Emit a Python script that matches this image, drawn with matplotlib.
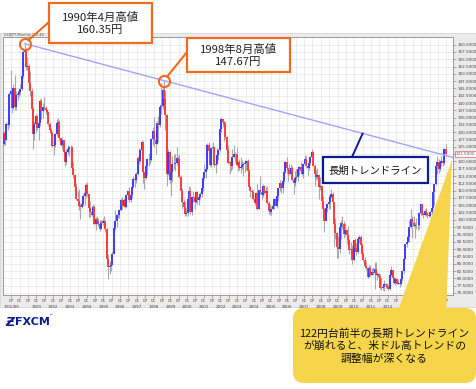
import matplotlib
matplotlib.use('Agg')
import matplotlib.pyplot as plt
from matplotlib.patches import Rectangle, FancyBboxPatch, Polygon, ConnectionPatch
import matplotlib.transforms as mtransforms
import numpy as np

plt.rcParams['font.family'] = ['Noto Sans CJK JP', 'DejaVu Sans']

# USD/JPY monthly, Jan 1989 - Jun 2015
START_YEAR = 1989
first_open = 125.9
closes = [
    129.7, 127.4, 132.7, 132.5, 143.0, 144.1, 138.2, 145.3, 138.8, 142.8, 143.2, 143.8,  # 1989
    144.9, 149.4, 157.6, 158.5, 152.2, 152.8, 146.7, 144.0, 137.9, 129.4, 132.8, 135.4,  # 1990
    131.3, 133.0, 140.6, 137.3, 138.6, 138.3, 137.5, 136.9, 132.9, 130.6, 129.7, 125.2,  # 1991
    125.8, 129.3, 133.1, 133.5, 128.0, 125.6, 127.4, 123.2, 119.9, 123.3, 124.4, 124.8,  # 1992
    124.9, 117.9, 115.4, 111.1, 107.2, 106.5, 104.6, 104.5, 105.5, 108.2, 109.1, 111.9,  # 1993
    108.9, 104.1, 102.7, 101.8, 104.5, 98.5, 100.3, 99.6, 98.5, 97.0, 98.9, 99.7,        # 1994
    99.6, 96.9, 86.5, 84.0, 84.2, 84.6, 88.4, 97.3, 99.6, 101.6, 101.7, 103.3,           # 1995
    106.8, 104.6, 106.9, 104.5, 108.6, 109.8, 106.8, 108.5, 111.4, 114.1, 113.6, 115.8,  # 1996
    121.3, 120.2, 123.9, 126.7, 116.4, 114.3, 118.3, 120.8, 120.7, 120.5, 127.7, 130.4,  # 1997
    127.2, 126.0, 133.3, 132.4, 138.8, 138.9, 144.6, 141.3, 136.0, 115.6, 123.4, 113.6,  # 1998
    116.3, 119.0, 119.3, 119.5, 121.3, 120.7, 114.6, 109.9, 106.1, 104.5, 102.1, 102.2,  # 1999
    107.3, 109.9, 102.8, 108.0, 107.7, 106.1, 109.7, 106.8, 108.0, 108.9, 111.0, 114.4,  # 2000
    116.4, 117.4, 125.5, 123.6, 118.8, 124.7, 125.0, 118.7, 119.3, 122.3, 123.8, 131.0,  # 2001
    134.7, 133.5, 132.7, 128.5, 124.0, 119.6, 119.9, 118.3, 121.6, 122.5, 122.4, 118.8,  # 2002
    119.9, 117.6, 118.1, 118.8, 119.3, 119.6, 120.3, 116.9, 111.4, 109.9, 109.5, 107.2,  # 2003
    105.9, 109.1, 103.8, 110.4, 109.5, 108.6, 111.6, 109.2, 110.0, 105.8, 103.1, 102.6,  # 2004
    103.6, 104.6, 107.1, 104.8, 108.3, 110.9, 112.5, 111.0, 113.3, 116.4, 119.7, 117.9,  # 2005
    117.2, 115.7, 117.7, 113.7, 112.6, 114.4, 114.6, 117.4, 118.1, 116.9, 115.8, 119.0,  # 2006
    120.7, 118.5, 117.8, 119.6, 121.7, 123.2, 118.6, 115.8, 114.8, 115.4, 111.2, 111.7,  # 2007
    106.4, 103.9, 99.7, 104.0, 105.5, 106.2, 108.0, 108.8, 106.0, 98.5, 95.6, 90.6,      # 2008
    89.9, 97.6, 98.9, 98.5, 95.3, 96.4, 94.7, 93.0, 89.7, 90.1, 86.3, 93.0,              # 2009
    90.3, 88.9, 93.5, 94.0, 91.3, 88.4, 86.4, 84.2, 83.5, 80.4, 83.7, 81.1,              # 2010
    82.1, 81.8, 83.1, 81.2, 81.5, 80.5, 76.8, 76.6, 77.0, 78.2, 77.6, 76.9,              # 2011
    76.2, 81.2, 82.9, 80.0, 78.3, 79.8, 78.1, 78.4, 77.9, 79.8, 82.5, 86.7,              # 2012
    91.7, 92.6, 94.2, 97.5, 100.4, 99.1, 97.9, 98.2, 98.2, 98.4, 102.4, 105.3,           # 2013
    102.0, 101.8, 103.2, 102.2, 101.8, 101.3, 102.8, 104.1, 109.7, 112.3, 118.6, 119.8,  # 2014
    117.5, 119.6, 120.1, 119.4, 124.1, 122.5,                                            # 2015
]
highs = [
    130.4, 129.8, 133.4, 134.0, 143.7, 151.4, 144.8, 146.5, 149.5, 144.2, 144.5, 145.2,
    146.4, 150.2, 158.2, 160.35, 159.0, 155.8, 153.2, 151.0, 145.0, 138.8, 133.9, 136.3,
    136.0, 134.3, 141.3, 141.6, 140.0, 142.0, 139.0, 138.0, 137.3, 133.6, 131.4, 130.3,
    127.5, 129.8, 134.6, 134.8, 134.1, 128.5, 128.1, 127.4, 123.6, 124.2, 125.6, 125.2,
    125.6, 125.2, 119.7, 115.6, 112.5, 109.8, 110.6, 105.8, 106.5, 108.9, 109.9, 112.6,
    113.0, 109.0, 106.5, 104.9, 105.6, 105.0, 101.0, 101.4, 100.5, 99.8, 99.8, 100.6,
    101.4, 100.0, 97.1, 88.2, 86.0, 85.3, 89.5, 99.6, 103.5, 101.9, 102.3, 103.6,
    107.4, 107.8, 107.6, 108.0, 109.0, 109.9, 111.2, 109.0, 111.6, 114.9, 114.4, 116.3,
    122.0, 124.6, 124.3, 127.4, 127.0, 116.2, 118.6, 121.3, 123.0, 122.2, 128.0, 131.7,
    135.2, 127.7, 134.0, 135.6, 139.6, 146.8, 145.8, 147.67, 144.6, 136.1, 124.4, 123.6,
    117.7, 122.0, 122.7, 122.5, 124.8, 122.0, 122.7, 115.2, 111.0, 107.0, 106.5, 104.1,
    107.4, 111.6, 111.1, 108.2, 109.9, 107.5, 110.0, 109.8, 108.2, 109.5, 111.5, 114.7,
    119.1, 118.4, 126.4, 126.8, 124.6, 124.9, 126.6, 125.0, 122.3, 124.5, 124.2, 131.7,
    135.2, 134.5, 133.8, 133.7, 128.7, 125.6, 120.3, 121.3, 124.2, 125.6, 123.2, 125.1,
    120.2, 121.0, 121.4, 120.6, 119.8, 120.5, 120.5, 121.0, 117.3, 111.6, 110.5, 110.2,
    107.9, 109.6, 112.2, 110.4, 114.9, 111.0, 112.2, 112.0, 111.1, 111.5, 106.4, 105.3,
    104.9, 106.1, 107.5, 108.1, 108.5, 111.0, 113.7, 112.5, 113.6, 116.5, 120.0, 121.4,
    117.9, 119.1, 119.2, 118.6, 113.9, 116.6, 117.4, 117.8, 118.5, 119.9, 118.4, 119.5,
    122.2, 121.9, 118.5, 119.9, 121.9, 124.1, 123.6, 119.2, 117.2, 117.9, 115.4, 114.7,
    111.9, 108.2, 104.0, 104.7, 105.8, 108.6, 108.6, 110.7, 109.5, 106.3, 100.5, 96.0,
    94.6, 98.6, 99.8, 101.4, 99.7, 98.9, 96.0, 97.8, 93.4, 92.3, 91.3, 93.1,
    93.8, 92.0, 93.7, 94.8, 94.9, 92.2, 89.0, 87.3, 86.0, 83.9, 84.4, 84.5,
    83.7, 84.0, 85.5, 85.5, 82.1, 81.7, 81.5, 80.2, 77.9, 79.6, 78.3, 78.3,
    77.8, 81.3, 84.2, 83.0, 80.5, 80.6, 80.1, 79.7, 79.2, 80.4, 82.8, 86.8,
    91.8, 94.5, 96.7, 99.9, 103.7, 101.5, 101.5, 99.2, 100.6, 99.0, 102.6, 105.4,
    105.4, 102.8, 103.8, 104.1, 102.8, 102.8, 103.1, 104.5, 110.1, 112.5, 118.9, 121.8,
    120.8, 120.5, 122.0, 120.8, 124.5, 125.9,
]
lows = [
    125.6, 125.8, 127.2, 130.8, 131.7, 140.5, 136.6, 138.0, 137.5, 137.6, 141.2, 142.0,
    142.9, 144.3, 148.7, 155.8, 151.3, 151.2, 145.3, 142.5, 137.3, 124.1, 127.2, 130.1,
    130.6, 127.5, 132.3, 134.6, 135.0, 137.5, 136.1, 135.0, 132.0, 129.6, 128.1, 124.9,
    122.2, 125.0, 128.8, 131.4, 126.9, 125.2, 124.4, 123.0, 118.6, 119.0, 122.4, 122.0,
    123.0, 116.8, 114.5, 110.3, 106.8, 104.8, 103.3, 100.4, 104.2, 104.6, 105.0, 108.0,
    108.2, 101.1, 101.0, 101.3, 101.1, 98.2, 96.6, 98.6, 97.8, 96.1, 96.8, 98.2,
    98.0, 96.0, 86.0, 79.75, 81.4, 82.5, 84.4, 88.2, 96.4, 97.6, 100.6, 100.7,
    103.1, 103.9, 104.3, 104.2, 104.3, 107.8, 106.1, 106.3, 107.6, 111.0, 111.2, 112.8,
    115.3, 119.0, 119.8, 122.0, 112.6, 110.6, 114.1, 115.5, 118.5, 119.0, 120.3, 125.6,
    124.9, 122.4, 125.9, 126.7, 131.9, 136.1, 138.1, 140.2, 130.9, 111.6, 115.3, 112.7,
    108.3, 113.0, 117.4, 116.9, 118.9, 117.3, 114.3, 108.4, 103.7, 103.9, 101.4, 101.3,
    101.5, 105.3, 102.1, 101.6, 106.2, 103.9, 105.8, 105.3, 105.0, 107.0, 107.7, 109.9,
    114.1, 114.4, 117.0, 121.7, 118.3, 118.0, 123.4, 118.0, 115.9, 119.0, 120.6, 123.3,
    130.2, 131.9, 126.9, 127.6, 123.0, 119.3, 115.6, 116.8, 117.4, 121.2, 119.9, 118.6,
    116.9, 117.1, 115.9, 117.5, 115.0, 116.5, 117.2, 116.5, 110.8, 107.7, 107.8, 106.8,
    105.2, 105.1, 103.4, 103.7, 108.8, 106.8, 107.7, 108.8, 108.7, 105.5, 102.1, 101.8,
    101.7, 103.6, 103.6, 104.6, 104.1, 106.6, 110.0, 109.1, 109.3, 112.8, 116.1, 115.6,
    113.4, 115.3, 115.3, 113.4, 108.9, 111.7, 113.4, 113.4, 115.4, 116.4, 115.4, 114.4,
    118.8, 117.6, 115.2, 117.1, 118.9, 121.1, 118.4, 111.6, 113.7, 113.9, 107.2, 110.4,
    104.9, 103.0, 95.8, 99.8, 102.6, 103.9, 103.8, 107.6, 103.5, 90.9, 93.3, 87.1,
    87.1, 88.8, 93.5, 96.9, 93.9, 94.4, 91.7, 92.4, 88.2, 88.0, 84.8, 86.1,
    89.8, 88.1, 88.2, 92.1, 88.9, 88.1, 86.0, 83.6, 82.9, 80.2, 80.3, 80.9,
    81.0, 81.1, 76.3, 81.1, 79.6, 79.7, 76.4, 75.9, 75.9, 75.6, 76.6, 76.6,
    75.9, 76.0, 80.9, 79.6, 78.0, 77.7, 77.9, 78.0, 77.1, 77.8, 79.0, 81.7,
    86.5, 90.8, 92.6, 92.6, 97.1, 93.8, 97.6, 93.8, 96.9, 96.5, 96.9, 101.6,
    101.8, 100.8, 101.2, 101.4, 100.8, 101.1, 101.1, 102.0, 103.8, 105.2, 111.8, 115.6,
    115.9, 116.9, 118.3, 118.5, 118.9, 122.0,
]

peak_months = [(1990, 4), (1998, 8)]
peak_prices = [160.35, 147.67]
peak_labels = ['1990年4月高値\n160.35円', '1998年8月高値\n147.67円']
trend_label = '長期トレンドライン'
callout_text = '122円台前半の長期トレンドライン\nが崩れると、米ドル高トレンドの\n調整幅が深くなる'

ORANGE = '#f26b1d'
NAVY = '#0b1d8f'
YELLOW = '#f6d54c'

W, H = 477, 389
fig = plt.figure(figsize=(W / 100, H / 100), dpi=100)

# background layer in pixel coordinates
bg = fig.add_axes([0, 0, 1, 1], zorder=0)
bg.set_xlim(0, W)
bg.set_ylim(H, 0)
bg.axis('off')
bg.add_patch(Rectangle((0, 33), 476, 274, facecolor='#ebebeb', edgecolor='#d0d0d0', lw=0.5))
bg.text(4, 35.3, 'USDJPY,Monthly 122.48', fontsize=2.4,
        color='#555555', va='center', ha='left', family='DejaVu Sans')
bg.text(5, 322, 'Ƶ', fontsize=9, color=NAVY, fontweight='bold', va='center',
        family='DejaVu Sans', style='italic')
bg.text(15, 322, 'FXCM', fontsize=8, color=NAVY, fontweight='bold', va='center',
        family='DejaVu Sans')
bg.text(48, 316, '™', fontsize=3, color=NAVY, va='center', family='DejaVu Sans')

# main chart
ax = fig.add_axes([3 / W, 1 - 295 / H, 450 / W, 258 / H], zorder=1)
ax.set_facecolor('white')

n = len(closes)
xs = np.array([START_YEAR + (i + 0.5) / 12 for i in range(n)])
opens = np.array([first_open] + closes[:-1])
cl = np.array(closes)
up = cl >= opens
body_lo = np.minimum(opens, cl)
body_hi = np.maximum(opens, cl)

ax.vlines(xs, lows, highs, colors='#a9a9a9', lw=0.8, zorder=2)
ax.vlines(xs, body_lo, body_hi, colors=np.where(up, '#3c3cff', '#ff3c3c'), lw=1.4, zorder=3)

xmin, xmax = 1989.0, 2015.9
ymin, ymax = 74.3, 162.6
ax.set_xlim(xmin, xmax)
ax.set_ylim(ymin, ymax)

# y ticks on right
yt = np.arange(75, 160.01, 2.5)
ax.yaxis.tick_right()
ax.set_yticks(yt)
ax.set_yticklabels([f'{v:.4f}' for v in yt], fontsize=3.0, color='#444444',
                   family='DejaVu Sans')

# x ticks every half year, year row drawn separately
xt = np.arange(1989.5, 2015.6, 0.5)
ax.set_xticks(xt)
ax.set_xticklabels(['01' if v % 1 == 0 else '07' for v in xt], fontsize=3.0,
                   color='#444444', family='DejaVu Sans')
ax.tick_params(length=2, width=0.5, color='#d07070', pad=1)

xtrans = mtransforms.blended_transform_factory(ax.transData, ax.transAxes)
year_ticks = [v for v in xt if v % 1 == 0 and v > 1990]
ax.text(1989.5, -0.038, '7/01/89', transform=xtrans, fontsize=3.0, color='#444444',
        ha='center', va='top', family='DejaVu Sans')
for v in year_ticks:
    ax.text(v, -0.038, str(int(v)), transform=xtrans, fontsize=3.0, color='#444444',
            ha='center', va='top', family='DejaVu Sans')

ax.grid(True, color='#e6e6e6', lw=0.5, zorder=0)
ax.set_axisbelow(True)
for s in ax.spines.values():
    s.set_color('#9a9a9a')
    s.set_linewidth(0.7)

# long-term trend line through the two highs
px = [y + (m - 0.5) / 12 for (y, m) in peak_months]
slope = (peak_prices[1] - peak_prices[0]) / (px[1] - px[0])
end_y = peak_prices[0] + slope * (xmax - px[0])
ax.plot([px[0], xmax], [peak_prices[0], end_y], color='#a3a3ff', lw=1.0, zorder=4)

# peak circles
ax.plot(px, peak_prices, 'o', mfc='none', mec=ORANGE, ms=8, mew=1.5,
        clip_on=False, zorder=6)

# current price label
trans = mtransforms.blended_transform_factory(ax.transAxes, ax.transData)
ax.text(1.006, closes[-1], f'{closes[-1]:.4f}', transform=trans, fontsize=3.0,
        va='center', ha='left', color='#555555', family='DejaVu Sans',
        bbox=dict(boxstyle='square,pad=0.2', fc='white', ec='#e06060', lw=0.5))

# overlay for annotations
ov = fig.add_axes([0, 0, 1, 1], zorder=10)
ov.set_xlim(0, W)
ov.set_ylim(H, 0)
ov.axis('off')
ov.patch.set_alpha(0)

box_pos = [(49, 3, 103, 40), (187, 38, 103, 34)]
anchor = [(49, 22), (187, 52)]
for (bx, by, bw, bh), (axp, ayp), xp, yp, lab in zip(box_pos, anchor, px, peak_prices, peak_labels):
    ov.add_patch(Rectangle((bx, by), bw, bh, fc='white', ec=ORANGE, lw=1.6, zorder=3))
    ov.text(bx + bw / 2, by + bh / 2 + 0.5, lab, ha='center', va='center', fontsize=8.2,
            color='#222222', linespacing=1.35, zorder=4)
    con = ConnectionPatch(xyA=(axp, ayp), coordsA=ov.transData, xyB=(xp, yp),
                          coordsB=ax.transData, color=ORANGE, lw=1.5, shrinkB=3.6)
    ov.add_artist(con)

# trend line label
ov.add_patch(Rectangle((323, 157), 105, 26, fc='white', ec=NAVY, lw=1.6, zorder=3))
ov.text(375.5, 170.5, trend_label, ha='center', va='center', fontsize=7.5,
        color='#111111', zorder=4)
tx = 2010.5
con = ConnectionPatch(xyA=(352, 157), coordsA=ov.transData,
                      xyB=(tx, peak_prices[0] + slope * (tx - px[0])),
                      coordsB=ax.transData, color=NAVY, lw=1.4)
ov.add_artist(con)

# yellow callout
ov.add_patch(Polygon([(452, 160), (396, 316), (446, 316)], closed=True,
                     fc=YELLOW, ec='none', zorder=5))
ov.add_patch(FancyBboxPatch((293, 308), 183, 75,
                            boxstyle='round,pad=0,rounding_size=11',
                            fc=YELLOW, ec='none', zorder=5))
ov.text(384.5, 346, callout_text, ha='center', va='center', fontsize=7.8,
        color='#111111', linespacing=1.3, zorder=6)

fig.savefig('out.png', dpi=100)
